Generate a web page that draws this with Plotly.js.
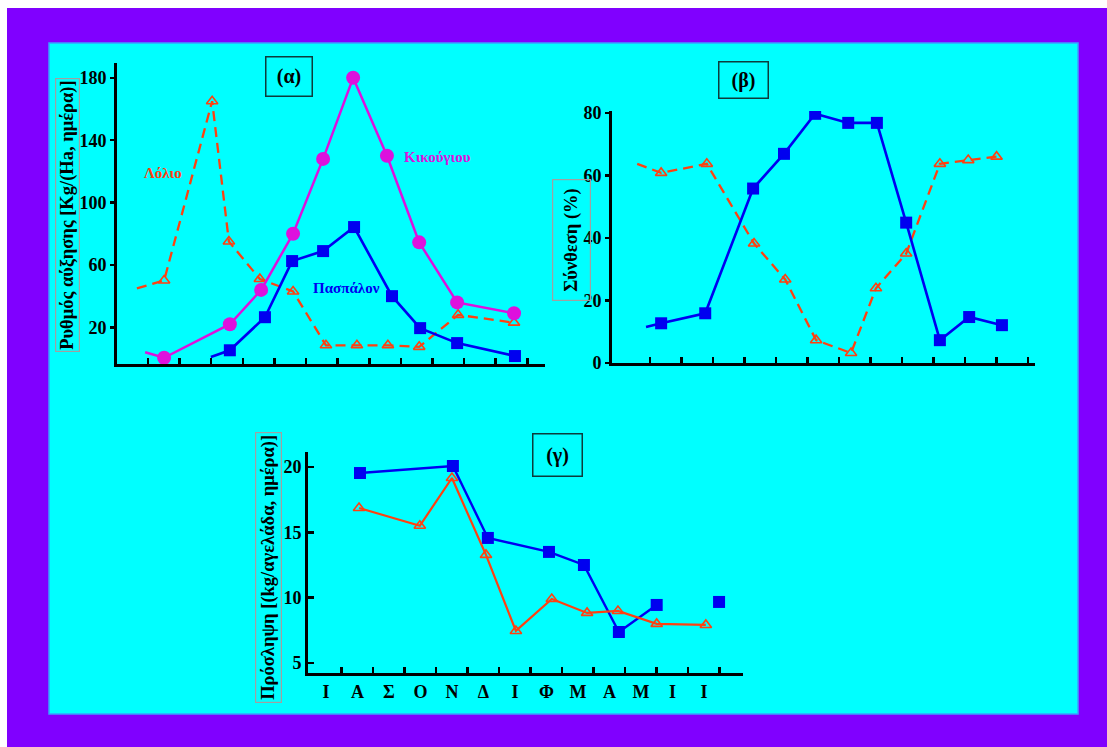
<!DOCTYPE html>
<html>
<head>
<meta charset="utf-8">
<script src="https://cdn.plot.ly/plotly-3.0.1.min.js"></script>
<style>html,body{margin:0;padding:0;background:#fff;}#chart{width:1107px;height:747px;}</style>
</head>
<body>
<div id="chart"></div>
<script>
// ---------- DATA ----------
// Panel (α): growth rate [Kg/(Ha, day)]
const seriesNamesA = ["Λόλιο", "Κικούγιου", "Πασπάλον"];
const aLolioX = [-0.35, 0.51, 2.03, 2.56, 3.54, 4.59, 5.63, 6.61, 7.59, 8.58, 9.81, 11.58];
const aLolioY = [45, 50, 165, 75, 51, 43, 8.5, 8.5, 8.5, 7.5, 28, 23];
const aKikX = [-0.09, 0.51, 2.59, 3.58, 4.59, 5.54, 6.49, 7.56, 8.58, 9.78, 11.58];
const aKikY = [4, 0.5, 22, 44, 80, 128, 180, 130, 74.5, 36, 29];
const aPasX = [1.99, 2.59, 3.70, 4.56, 5.54, 6.52, 7.72, 8.61, 9.78, 11.61];
const aPasY = [1, 5.3, 26.5, 62.5, 68.9, 84.3, 40, 19.5, 9.9, 1.6];
const aTicks = [0,1,2,3,4,5,6,7,8,9,10,11,12];
const aYTicks = [20, 60, 100, 140, 180];

// Panel (β): composition (%)
const bPasX = [-0.13, 0.35, 1.75, 3.27, 4.25, 5.24, 6.29, 7.2, 8.13, 9.2, 10.13, 11.17];
const bPasY = [11.5, 12.7, 15.9, 55.8, 66.9, 79.7, 76.8, 76.8, 44.9, 7.3, 14.7, 12.1];
const bLolX = [-0.41, 0.35, 1.8, 3.3, 4.29, 5.27, 6.38, 7.17, 8.13, 9.2, 10.1, 11.0];
const bLolY = [63.7, 60.8, 63.7, 38.2, 26.7, 7.3, 3.2, 23.9, 35, 63.7, 64.9, 66];
const bYTicks = [0, 20, 40, 60, 80];

// Panel (γ): intake [(kg/cow, day)]
const months = ["Ι", "Α", "Σ", "Ο", "Ν", "Δ", "Ι", "Φ", "Μ", "Α", "Μ", "Ι", "Ι"];
const cBlueX = [1.08, 4.03, 5.14, 7.08, 8.19, 9.3, 10.5, null, 12.48];
const cBlueY = [19.54, 20.08, 14.57, 13.5, 12.5, 7.37, 9.44, null, 9.67];
const cOrX = [1.05, 2.98, 4.0, 5.08, 6.03, 7.17, 8.29, 9.27, 10.5, 12.06];
const cOrY = [16.86, 15.5, 19.16, 13.27, 7.45, 9.9, 8.83, 8.98, 7.99, 7.91];
const cYTicks = [5, 10, 15, 20];

const panelTitles = ["(α)", "(β)", "(γ)"];
const yTitles = ["Ρυθμός αύξησης [Kg/(Ha, ημέρα)]", "Σύνθεση (%)", "Πρόσληψη [(kg/αγελάδα, ημέρα)]"];

// ---------- STYLE ----------
const W = 1107, H = 747;
const fx = px => px / W;
const fy = py => 1 - py / H;
const BLUE = "#0000f0", MAG = "#dd11dd", ORG = "#ff4010";
const FONT = {family: "Liberation Serif, Times New Roman, serif", size: 18, color: "#000", weight: "bold"};
const firstHidden = (arr, s) => arr.map((_, i) => i === 0 ? 0 : s);
const f = o => Object.assign({}, FONT, o);

const triMarker = (arr, hideFirst) => ({symbol: "triangle-up-open", size: hideFirst ? firstHidden(arr, 10) : 10,
  color: ORG, opacity: 1, line: {width: 1.6, color: ORG}});
const fillMarker = (arr, sym, s, c, hideFirst) => ({symbol: sym, size: hideFirst ? firstHidden(arr, s) : s,
  color: c, opacity: 1, line: {width: 0, color: c}});

const traces = [
  {x: aLolioX, y: aLolioY, xaxis: "x", yaxis: "y", mode: "lines+markers", name: seriesNamesA[0],
   line: {color: ORG, width: 2.3, dash: "10px,6px"}, marker: triMarker(aLolioX, true)},
  {x: aKikX, y: aKikY, xaxis: "x", yaxis: "y", mode: "lines+markers", name: seriesNamesA[1],
   line: {color: MAG, width: 2.5}, marker: fillMarker(aKikX, "circle", 14, MAG, true)},
  {x: aPasX, y: aPasY, xaxis: "x", yaxis: "y", mode: "lines+markers", name: seriesNamesA[2],
   line: {color: BLUE, width: 2.6}, marker: fillMarker(aPasX, "square", 12, BLUE, true)},

  {x: bLolX, y: bLolY, xaxis: "x2", yaxis: "y2", mode: "lines+markers", name: seriesNamesA[0],
   line: {color: ORG, width: 2.3, dash: "10px,6px"}, marker: triMarker(bLolX, true)},
  {x: bPasX, y: bPasY, xaxis: "x2", yaxis: "y2", mode: "lines+markers", name: seriesNamesA[2],
   line: {color: BLUE, width: 2.6}, marker: fillMarker(bPasX, "square", 12, BLUE, true)},

  {x: cBlueX, y: cBlueY, xaxis: "x3", yaxis: "y3", mode: "lines+markers", name: seriesNamesA[2],
   connectgaps: false, line: {color: BLUE, width: 2.4}, marker: fillMarker(cBlueX, "square", 12, BLUE, false)},
  {x: cOrX, y: cOrY, xaxis: "x3", yaxis: "y3", mode: "lines+markers", name: seriesNamesA[0],
   line: {color: ORG, width: 2.2}, marker: triMarker(cOrX, false)}
];

const axBase = {showgrid: false, zeroline: false, showline: true, linecolor: "#000", linewidth: 3,
                tickcolor: "#000", tickwidth: 2.5, tickfont: FONT, fixedrange: true};

const layout = {
  width: W, height: H,
  margin: {l: 0, r: 0, t: 0, b: 0, pad: 0},
  paper_bgcolor: "#ffffff",
  plot_bgcolor: "rgba(0,0,0,0)",
  showlegend: false,
  font: FONT,
  xaxis: Object.assign({}, axBase, {domain: [fx(117), fx(545)], range: [-0.98, 12.56], anchor: "y",
          tickmode: "array", tickvals: aTicks, showticklabels: false, ticks: "inside", ticklen: 6}),
  yaxis: Object.assign({}, axBase, {domain: [fy(364), fy(63)], range: [-3.5, 189.5], anchor: "x",
          tickmode: "array", tickvals: aYTicks, ticks: "outside", ticklen: 4, ticklabelstandoff: 0}),
  xaxis2: Object.assign({}, axBase, {domain: [fx(612), fx(1035)], range: [-1.21, 12.22], anchor: "y2",
          tickmode: "array", tickvals: aTicks, showticklabels: false, ticks: "inside", ticklen: 6}),
  yaxis2: Object.assign({}, axBase, {domain: [fy(363), fy(111)], range: [0, 80.6], anchor: "x2",
          tickmode: "array", tickvals: bYTicks, ticks: "outside", ticklen: 4, ticklabelstandoff: 0}),
  xaxis3: Object.assign({}, axBase, {domain: [fx(308), fx(743)], range: [-0.57, 13.24], anchor: "y3",
          tickmode: "array", tickvals: months.map((_, i) => i), ticktext: months, ticks: "",
          tickfont: f({size: 18}),
          minor: {tickmode: "array", tickvals: months.map((_, i) => i + 0.5), ticks: "inside",
                  ticklen: 6, tickwidth: 2.5, tickcolor: "#000", showgrid: false}}),
  yaxis3: Object.assign({}, axBase, {domain: [fy(673), fy(452)], range: [4.23, 21.15], anchor: "x3",
          tickmode: "array", tickvals: cYTicks, ticks: "inside", ticklen: 6}),
  shapes: [
    {type: "rect", xref: "paper", yref: "paper", x0: fx(7), x1: 1, y0: 0, y1: fy(8),
     fillcolor: "#8000ff", line: {width: 0}, layer: "below"},
    {type: "rect", xref: "paper", yref: "paper", x0: fx(49), x1: fx(1078), y0: fy(714), y1: fy(43),
     fillcolor: "#00ffff", line: {width: 1.5, color: "#3aa0ff"}, layer: "below"}
  ],
  annotations: [
    // panel titles
    {text: panelTitles[0], xref: "paper", yref: "paper", x: fx(289), y: fy(76), xanchor: "center", yanchor: "middle",
     showarrow: false, font: f({size: 20}), width: 43, height: 36, bordercolor: "#0d3b3b", borderwidth: 1.5, borderpad: 1},
    {text: panelTitles[1], xref: "paper", yref: "paper", x: fx(743), y: fy(80), xanchor: "center", yanchor: "middle",
     showarrow: false, font: f({size: 20}), width: 46, height: 33, bordercolor: "#0d3b3b", borderwidth: 1.5, borderpad: 1},
    {text: panelTitles[2], xref: "paper", yref: "paper", x: fx(557), y: fy(455), xanchor: "center", yanchor: "middle",
     showarrow: false, font: f({size: 20}), width: 46, height: 39, bordercolor: "#0d3b3b", borderwidth: 1.5, borderpad: 1},
    // axis titles
    {text: yTitles[0], xref: "paper", yref: "paper", x: fx(67), y: fy(215), xanchor: "center", yanchor: "middle",
     showarrow: false, textangle: -90, font: f({size: 18.5}), bordercolor: "#a0a0a0", borderwidth: 1.2, borderpad: 1},
    {text: yTitles[1], xref: "paper", yref: "paper", x: fx(571), y: fy(240), xanchor: "center", yanchor: "middle",
     showarrow: false, textangle: -90, font: f({size: 18.5}), bordercolor: "#a0a0a0", borderwidth: 1.2, borderpad: 8},
    {text: yTitles[2], xref: "paper", yref: "paper", x: fx(268), y: fy(568), xanchor: "center", yanchor: "middle",
     showarrow: false, textangle: -90, font: f({size: 18.5}), bordercolor: "#a0a0a0", borderwidth: 1.2, borderpad: 2},
    // series labels in panel (α)
    {text: seriesNamesA[0], xref: "paper", yref: "paper", x: fx(163), y: fy(173), xanchor: "center", yanchor: "middle",
     showarrow: false, font: f({size: 15, color: ORG})},
    {text: seriesNamesA[1], xref: "paper", yref: "paper", x: fx(437), y: fy(157), xanchor: "center", yanchor: "middle",
     showarrow: false, font: f({size: 15, color: MAG})},
    {text: seriesNamesA[2], xref: "paper", yref: "paper", x: fx(346), y: fy(288), xanchor: "center", yanchor: "middle",
     showarrow: false, font: f({size: 15, color: BLUE})}
  ]
};

Plotly.newPlot("chart", traces, layout, {displayModeBar: false, staticPlot: true});
</script>
</body>
</html>
